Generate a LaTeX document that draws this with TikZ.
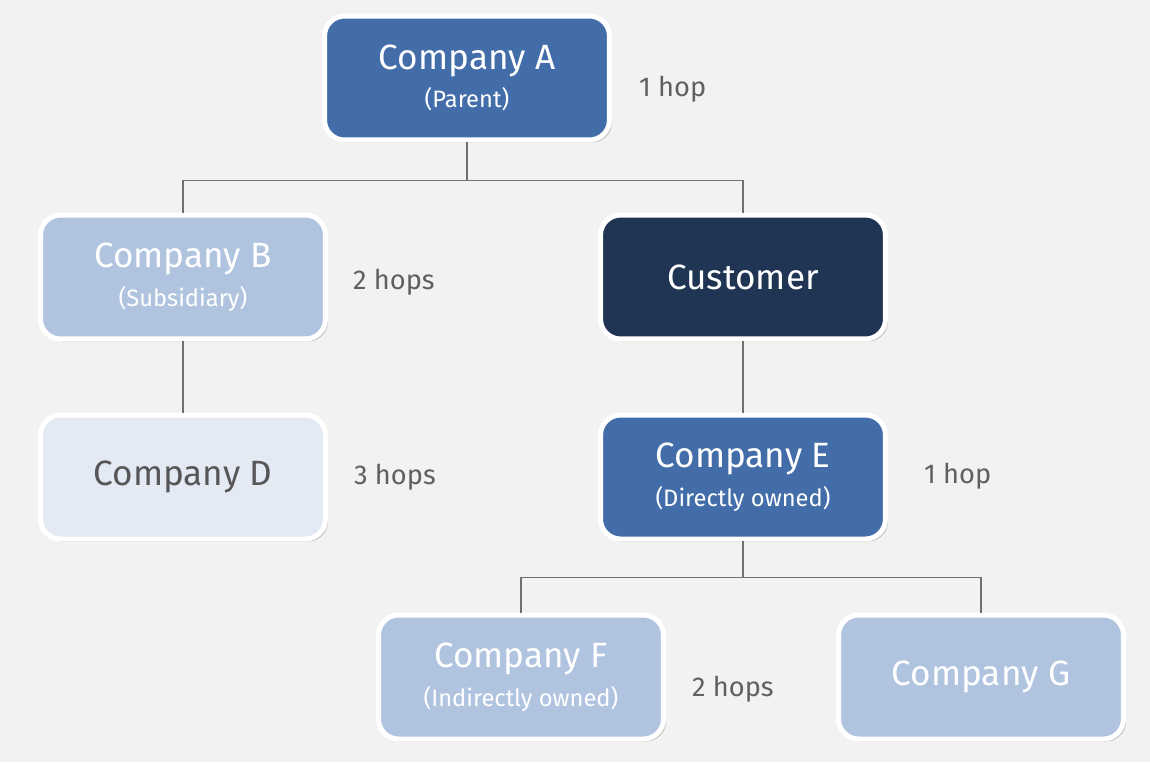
\documentclass[tikz,border=0pt]{standalone}
\usepackage{fontspec}
\setmainfont{Fira Sans}
\usetikzlibrary{positioning,shadows}

\definecolor{bggray}{HTML}{F2F2F2}
\definecolor{midblue}{HTML}{426DA9}
\definecolor{lightblue}{HTML}{B0C4E0}
\definecolor{paleblue}{HTML}{E3EAF4}
\definecolor{navy}{HTML}{203454}
\definecolor{linegray}{HTML}{707070}
\definecolor{hopgray}{HTML}{606060}

\newcommand{\subline}[1]{\\[0pt]{\fontsize{13.5}{15}\selectfont #1}}

\begin{document}
\begin{tikzpicture}[x=0.02cm,y=-0.02cm,
  main node/.style={rectangle,rounded corners=0.4cm,draw=white,line width=0.1cm,
    minimum width=5.7cm,minimum height=2.48cm,align=center,text=white,
    font=\fontsize{20}{22}\selectfont,
    drop shadow={shadow xshift=0.05cm,shadow yshift=-0.05cm,opacity=0.22,fill=black}},
  hop/.style={anchor=west,text=hopgray,font=\fontsize{15.5}{18}\selectfont},
  link/.style={draw=linegray,line width=1.1pt}]

  \fill[bggray] (0,0) rectangle (1150,762);
  \useasboundingbox (0,0) rectangle (1150,762);

  \node[main node,fill=midblue] (A) at (467,78) {Company A\subline{(Parent)}};
  \node[main node,fill=lightblue] (B) at (183,277) {Company B\subline{(Subsidiary)}};
  \node[main node,fill=navy] (C) at (743,277) {Customer};
  \node[main node,fill=paleblue,text=hopgray!90!black] (D) at (183,477) {Company D};
  \node[main node,fill=midblue] (E) at (743,477) {Company E\subline{(Directly owned)}};
  \node[main node,fill=lightblue] (F) at (521,677) {Company F\subline{(Indirectly owned)}};
  \node[main node,fill=lightblue] (G) at (981,677) {Company G};

  \node[hop] (hopA) at (633,89) {1 hop};
  \node[hop] (hopB) at (347,282) {2 hops};
  \node[hop] (hopD) at (348,477) {3 hops};
  \node[hop] (hopE) at (918,476) {1 hop};
  \node[hop] (hopF) at (686,689) {2 hops};

  \draw[link] (A.south) -- ++(0,38) coordinate (splitA);
  \draw[link] (splitA) -| (B.north);
  \draw[link] (splitA) -| (C.north);
  \draw[link] (B.south) -- (D.north);
  \draw[link] (C.south) -- (E.north);
  \draw[link] (E.south) -- ++(0,36) coordinate (splitE);
  \draw[link] (splitE) -| (F.north);
  \draw[link] (splitE) -| (G.north);
\end{tikzpicture}
\end{document}
